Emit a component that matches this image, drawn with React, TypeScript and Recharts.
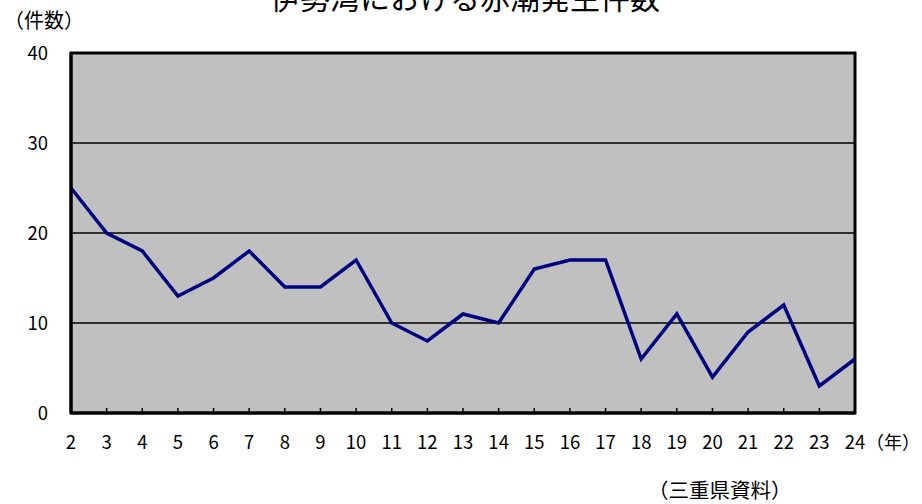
import { CartesianGrid, Line, LineChart, ReferenceArea, XAxis, YAxis } from "recharts"

const years = [
  "2", "3", "4", "5", "6", "7", "8", "9", "10", "11", "12",
  "13", "14", "15", "16", "17", "18", "19", "20", "21", "22", "23", "24",
]
const counts = [25, 20, 18, 13, 15, 18, 14, 14, 17, 10, 8, 11, 10, 16, 17, 17, 6, 11, 4, 9, 12, 3, 6]
const yTicks = [0, 10, 20, 30, 40]

const font = "'Noto Sans CJK JP', 'Noto Sans', sans-serif"

const data = years.map((year, i) => ({ year, count: counts[i] }))

function YearTick(props: any) {
  const { x, y, payload, index } = props
  const first = index === 0
  const last = index === years.length - 1
  return (
    <g>
      {!first && !last && (
        <line x1={x} x2={x} y1={y} y2={y - 5} stroke="#000" strokeWidth={1.5} />
      )}
      <text
        x={x}
        y={y + 36}
        textAnchor="middle"
        fontSize={18.5}
        fontFamily={font}
        fill="#000"
      >
        {payload.value}
      </text>
    </g>
  )
}

export default function App() {
  return (
    <div style={{ position: "absolute", left: 0, top: 0, width: 922, height: 504, background: "#fff" }}>
      <LineChart
        width={922}
        height={504}
        data={data}
        margin={{ top: 53, right: 67, bottom: 51, left: 0 }}
      >
        <CartesianGrid
          vertical={false}
          stroke="#000"
          strokeWidth={1.5}
          fill="#C0C0C0"
          fillOpacity={1}
        />
        <ReferenceArea y1={0} y2={40} fill="none" stroke="#000" strokeWidth={3} />
        <XAxis
          dataKey="year"
          padding={{ left: 0, right: 0 }}
          height={40}
          tickLine={false}
          tickSize={0}
          tickMargin={0}
          interval={0}
          axisLine={{ stroke: "#000", strokeWidth: 3 }}
          tick={<YearTick />}
        />
        <YAxis
          domain={[0, 40]}
          ticks={yTicks}
          width={71}
          tickLine={false}
          tickSize={0}
          tickMargin={23}
          axisLine={{ stroke: "#000", strokeWidth: 3 }}
          tick={{ fontSize: 18.5, fontFamily: font, fill: "#000" }}
        />
        <Line
          type="linear"
          dataKey="count"
          stroke="#000080"
          strokeWidth={3.5}
          dot={false}
          activeDot={false}
          isAnimationActive={false}
        />
      </LineChart>
      <svg
        width={922}
        height={504}
        style={{ position: "absolute", left: 0, top: 0, pointerEvents: "none" }}
      >
        <text x={465} y={9} textAnchor="middle" fontSize={30} fontFamily={font} fill="#000">
          伊勢湾における赤潮発生件数
        </text>
        <text x={4} y={28} fontSize={20} fontFamily={font} fill="#000">
          （件数）
        </text>
        <text x={866} y={449} fontSize={18} fontFamily={font} fill="#000">
          （年）
        </text>
        <text x={648} y={498} fontSize={20.5} fontFamily={font} fill="#000">
          （三重県資料）
        </text>
      </svg>
    </div>
  )
}
